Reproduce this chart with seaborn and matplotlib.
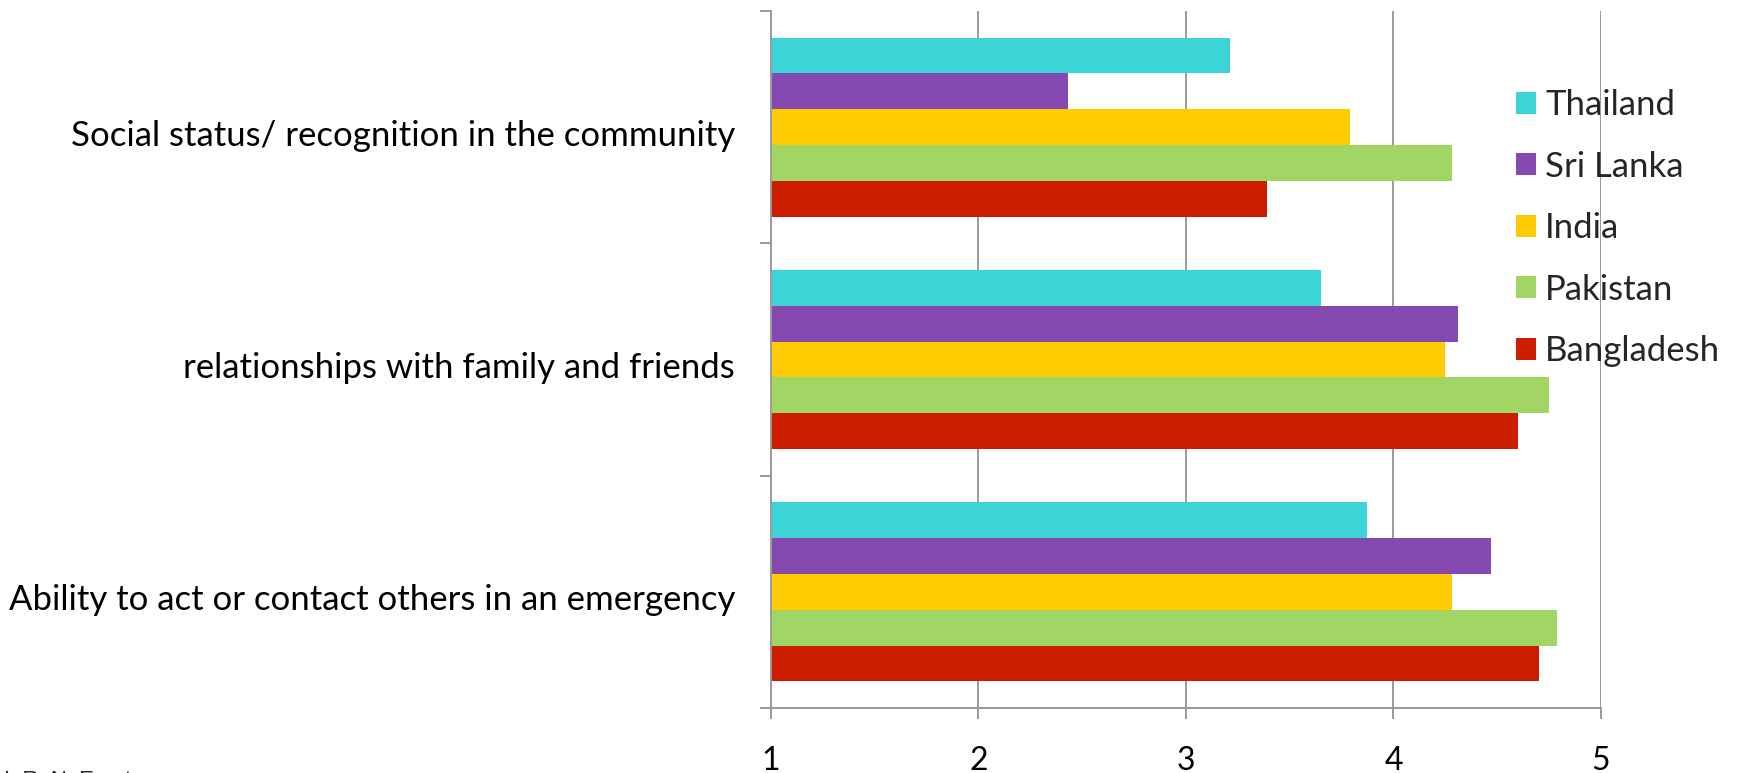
import matplotlib
matplotlib.use("Agg")
import matplotlib.pyplot as plt
import matplotlib.transforms as mtransforms
import seaborn as sns
import pandas as pd
import numpy as np

categories = ["Social status/ recognition in the community",
              "relationships with family and friends",
              "Ability to act or contact others in an emergency"]
countries = ["Thailand", "Sri Lanka", "India", "Pakistan", "Bangladesh"]
thailand = [3.21, 3.65, 3.87]
sri_lanka = [2.43, 4.31, 4.47]
india = [3.79, 4.25, 4.28]
pakistan = [4.28, 4.75, 4.79]
bangladesh = [3.39, 4.60, 4.70]
x_ticks = [1, 2, 3, 4, 5]
colors = ["#3BD5D7", "#8649AF", "#FFCA00", "#A2D664", "#CD1E00"]

series = [thailand, sri_lanka, india, pakistan, bangladesh]
rows = []
for c, vals in zip(countries, series):
    for cat, v in zip(categories, vals):
        rows.append({"category": cat, "country": c, "value": v})
df = pd.DataFrame(rows)

sns.set_theme(style="white")
plt.rcParams["font.family"] = ["Lato", "DejaVu Sans"]

fig = plt.figure(figsize=(17.4, 7.73), dpi=100)
ax = fig.add_axes([771/1740, 1-708/773, (1601-771)/1740, (708-11)/773])

sns.barplot(data=df, y="category", x="value", hue="country",
            order=categories, hue_order=countries, palette=colors,
            orient="h", width=0.77, linewidth=0, saturation=1, ax=ax,
            legend=True)

ax.set_xlim(1, 5)
ax.set_ylim(2.5, -0.5)
ax.set_xticks(x_ticks)
ax.set_xticklabels([str(t) for t in x_ticks])
ax.set_xlabel("")
ax.set_ylabel("")

grid_c = "#9A9A9A"
ax.grid(axis="x", color=grid_c, linewidth=1.4)
ax.grid(axis="y", visible=False)
ax.set_axisbelow(True)
for s in ["top", "right"]:
    ax.spines[s].set_visible(False)
for s in ["left", "bottom"]:
    ax.spines[s].set_color(grid_c)
    ax.spines[s].set_linewidth(1.4)

ax.set_yticks([0, 1, 2])
ax.set_yticks([-0.5, 0.5, 1.5, 2.5], minor=True)
ax.tick_params(axis="y", which="major", length=0, pad=26, labelsize=25, labelcolor="black")
ax.tick_params(axis="y", which="minor", length=8, width=1.4, color=grid_c, direction="out", left=True)
ax.tick_params(axis="x", which="major", length=8, width=1.4, color=grid_c, direction="out",
               bottom=True, pad=19.5, labelsize=23, labelcolor="black")

offset = mtransforms.ScaledTranslation(0, -4/72, fig.dpi_scale_trans)
for lbl in ax.get_yticklabels():
    lbl.set_transform(lbl.get_transform() + offset)

handles, labels = ax.get_legend_handles_labels()
ax.legend(handles, labels, loc="upper left", bbox_to_anchor=(1516/1740, 1-89/773),
          bbox_transform=fig.transFigure, frameon=False, fontsize=25,
          handlelength=0.58, handleheight=0.58, handletextpad=0.26,
          labelspacing=0.85, borderaxespad=0, borderpad=0)

fig.text(4/1740, 3/773, "I. R. N. Ernst", fontsize=16, va="top", ha="left",
         family=["Liberation Sans", "DejaVu Sans"])

fig.savefig("out.png", dpi=100)
